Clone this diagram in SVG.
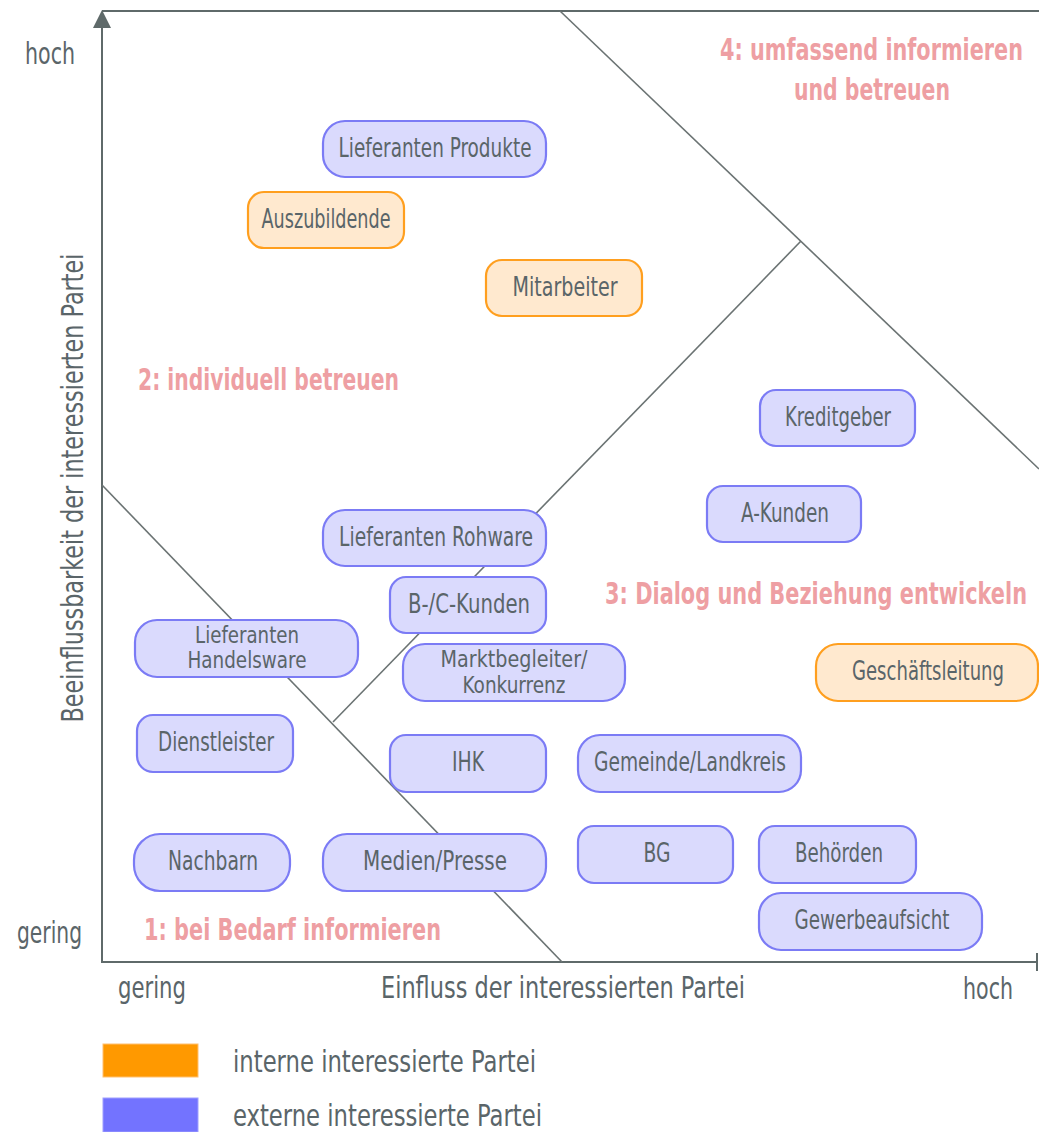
<svg xmlns="http://www.w3.org/2000/svg" width="1039" height="1132" viewBox="0 0 1039 1132">
<style>
text{font-family:"Liberation Sans Narrow","DejaVu Sans Condensed","Liberation Sans",Arial,sans-serif;}
.ax{stroke:#5f6a6a;stroke-width:2;fill:none}
.dl{stroke:#6b7373;stroke-width:1.6;fill:none}
.ext rect{fill:#dadafd;stroke:#7b7bf5;stroke-width:2.2}
.int rect{fill:#ffe9cf;stroke:#ff9f1f;stroke-width:2.2}
.nt{fill:#5a6569;font-size:26px;text-anchor:middle}
.nt2{fill:#5a6569;font-size:23px;text-anchor:middle}
.lab{fill:#5a6569;font-size:30px}
.reg{fill:#ee9fa3;font-size:30px;font-weight:bold}
</style>
<rect width="1039" height="1132" fill="#ffffff"/>

<g id="axes">
<line class="ax" x1="102" y1="11" x2="1039" y2="11" stroke="#8a9090"/>
<line class="ax" x1="102" y1="962" x2="102" y2="26"/>
<polygon points="102,10 93,28 111,28" fill="#5f6a6a"/>
<line class="ax" x1="101" y1="962" x2="1037" y2="962"/>
<line class="ax" x1="1037" y1="953" x2="1037" y2="971"/>
</g>

<g id="connectors">
<line class="dl" x1="102" y1="485" x2="562" y2="962"/>
<line class="dl" x1="333" y1="722" x2="801" y2="241"/>
<line class="dl" x1="560" y1="11" x2="1039" y2="469"/>
</g>

<g id="axis-labels">
<text class="lab" x="25" y="64" textLength="50" lengthAdjust="spacingAndGlyphs">hoch</text>
<text class="lab" x="17" y="943" textLength="65" lengthAdjust="spacingAndGlyphs">gering</text>
<text class="lab" x="118" y="998" textLength="68" lengthAdjust="spacingAndGlyphs">gering</text>
<text class="lab" x="381" y="998" textLength="364" lengthAdjust="spacingAndGlyphs">Einfluss der interessierten Partei</text>
<text class="lab" x="963" y="999" textLength="50" lengthAdjust="spacingAndGlyphs">hoch</text>
<text class="lab" transform="translate(83,488) rotate(-90)" x="0" y="0" text-anchor="middle" textLength="469" lengthAdjust="spacingAndGlyphs">Beeinflussbarkeit der interessierten Partei</text>
</g>

<g id="region-labels">
<text class="reg" x="720" y="60" textLength="303" lengthAdjust="spacingAndGlyphs">4: umfassend informieren</text>
<text class="reg" x="794" y="100" textLength="156" lengthAdjust="spacingAndGlyphs">und betreuen</text>
<text class="reg" x="138" y="390" textLength="261" lengthAdjust="spacingAndGlyphs">2: individuell betreuen</text>
<text class="reg" x="605" y="604" textLength="422" lengthAdjust="spacingAndGlyphs">3: Dialog und Beziehung entwickeln</text>
<text class="reg" x="144" y="940" textLength="297" lengthAdjust="spacingAndGlyphs">1: bei Bedarf informieren</text>
</g>

<g id="node-lieferanten-produkte" class="ext"><rect x="323" y="121" width="223" height="56" rx="22"/><text class="nt" x="435" y="157" textLength="193" lengthAdjust="spacingAndGlyphs">Lieferanten Produkte</text></g>
<g id="node-auszubildende" class="int"><rect x="248" y="192" width="156" height="56" rx="16"/><text class="nt" x="326" y="228" textLength="129" lengthAdjust="spacingAndGlyphs">Auszubildende</text></g>
<g id="node-mitarbeiter" class="int"><rect x="486" y="260" width="156" height="56" rx="16"/><text class="nt" x="565" y="296" textLength="105" lengthAdjust="spacingAndGlyphs">Mitarbeiter</text></g>
<g id="node-kreditgeber" class="ext"><rect x="760" y="390" width="155" height="56" rx="16"/><text class="nt" x="838" y="426" textLength="106" lengthAdjust="spacingAndGlyphs">Kreditgeber</text></g>
<g id="node-a-kunden" class="ext"><rect x="707" y="486" width="154" height="56" rx="16"/><text class="nt" x="785" y="522" textLength="88" lengthAdjust="spacingAndGlyphs">A-Kunden</text></g>
<g id="node-lieferanten-rohware" class="ext"><rect x="323" y="510" width="223" height="56" rx="22"/><text class="nt" x="436" y="546" textLength="194" lengthAdjust="spacingAndGlyphs">Lieferanten Rohware</text></g>
<g id="node-bc-kunden" class="ext"><rect x="390" y="577" width="156" height="56" rx="16"/><text class="nt" x="469" y="613" textLength="122" lengthAdjust="spacingAndGlyphs">B-/C-Kunden</text></g>
<g id="node-lieferanten-handelsware" class="ext"><rect x="135" y="620" width="223" height="57" rx="22"/><text class="nt2" x="247" y="643" textLength="104" lengthAdjust="spacingAndGlyphs">Lieferanten</text><text class="nt2" x="247" y="668" textLength="119" lengthAdjust="spacingAndGlyphs">Handelsware</text></g>
<g id="node-marktbegleiter" class="ext"><rect x="403" y="644" width="222" height="57" rx="22"/><text class="nt2" x="514" y="667" textLength="147" lengthAdjust="spacingAndGlyphs">Marktbegleiter/</text><text class="nt2" x="514" y="693" textLength="103" lengthAdjust="spacingAndGlyphs">Konkurrenz</text></g>
<g id="node-geschaeftsleitung" class="int"><rect x="816" y="644" width="222" height="57" rx="22"/><text class="nt" x="928" y="680" textLength="152" lengthAdjust="spacingAndGlyphs">Geschäftsleitung</text></g>
<g id="node-dienstleister" class="ext"><rect x="137" y="715" width="156" height="57" rx="16"/><text class="nt" x="216" y="751" textLength="116" lengthAdjust="spacingAndGlyphs">Dienstleister</text></g>
<g id="node-ihk" class="ext"><rect x="390" y="735" width="156" height="57" rx="16"/><text class="nt" x="468" y="771" textLength="32" lengthAdjust="spacingAndGlyphs">IHK</text></g>
<g id="node-gemeinde" class="ext"><rect x="578" y="735" width="223" height="57" rx="22"/><text class="nt" x="690" y="771" textLength="192" lengthAdjust="spacingAndGlyphs">Gemeinde/Landkreis</text></g>
<g id="node-bg" class="ext"><rect x="578" y="826" width="155" height="57" rx="16"/><text class="nt" x="657" y="862" textLength="27" lengthAdjust="spacingAndGlyphs">BG</text></g>
<g id="node-behoerden" class="ext"><rect x="759" y="826" width="157" height="57" rx="16"/><text class="nt" x="839" y="862" textLength="88" lengthAdjust="spacingAndGlyphs">Behörden</text></g>
<g id="node-nachbarn" class="ext"><rect x="134" y="834" width="156" height="57" rx="26"/><text class="nt" x="213" y="870" textLength="90" lengthAdjust="spacingAndGlyphs">Nachbarn</text></g>
<g id="node-medien" class="ext"><rect x="323" y="834" width="223" height="57" rx="24"/><text class="nt" x="435" y="870" textLength="144" lengthAdjust="spacingAndGlyphs">Medien/Presse</text></g>
<g id="node-gewerbeaufsicht" class="ext"><rect x="759" y="893" width="223" height="57" rx="22"/><text class="nt" x="872" y="929" textLength="155" lengthAdjust="spacingAndGlyphs">Gewerbeaufsicht</text></g>

<g id="legend">
<rect x="103" y="1044" width="95" height="33" fill="#ff9900" stroke="#ffc070" stroke-width="1"/>
<rect x="103" y="1098" width="95" height="34" fill="#7373ff" stroke="#a0a0ff" stroke-width="1"/>
<text class="lab" x="233" y="1072" textLength="303" lengthAdjust="spacingAndGlyphs">interne interessierte Partei</text>
<text class="lab" x="233" y="1126" textLength="309" lengthAdjust="spacingAndGlyphs">externe interessierte Partei</text>
</g>
</svg>
